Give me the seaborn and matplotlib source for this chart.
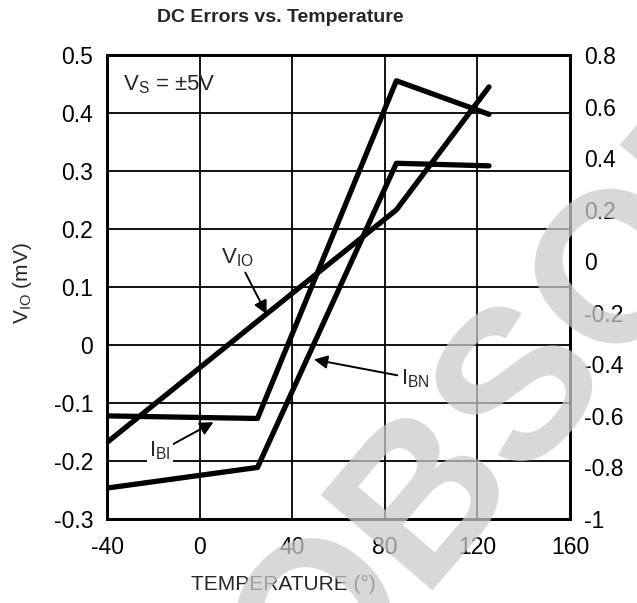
import numpy as np
import matplotlib
matplotlib.use("Agg")
import matplotlib.pyplot as plt
import seaborn as sns

# Measured data (temperature in °C)
temperature = [-40, 25, 85, 125]
v_io = [-0.168, 0.041, 0.233, 0.445]      # left axis, mV
i_bi = [-0.60, -0.61, 0.70, 0.57]         # right axis
i_bn = [-0.88, -0.80, 0.38, 0.37]         # right axis

x_ticks = [-40, 0, 40, 80, 120, 160]
left_ticks = [-0.3, -0.2, -0.1, 0.0, 0.1, 0.2, 0.3, 0.4, 0.5]
left_labels = ["-0.3", "-0.2", "-0.1", "0", "0.1", "0.2", "0.3", "0.4", "0.5"]
right_ticks = [-1.0, -0.8, -0.6, -0.4, -0.2, 0.0, 0.2, 0.4, 0.6, 0.8]
right_labels = ["-1", "-0.8", "-0.6", "-0.4", "-0.2", "0", "0.2", "0.4", "0.6", "0.8"]

sns.set_theme(style="white")
plt.rcParams["font.family"] = ["Liberation Sans", "DejaVu Sans"]
plt.rcParams["mathtext.fontset"] = "custom"
plt.rcParams["mathtext.rm"] = "Liberation Sans"

W, H = 637, 603
fig = plt.figure(figsize=(W / 100, H / 100), dpi=100)
fig.patch.set_facecolor("white")

x0, x1, y0, y1 = 107, 570, 55, 519
ax = fig.add_axes([x0 / W, 1 - y1 / H, (x1 - x0) / W, (y1 - y0) / H])
ax2 = ax.twinx()

TICK_FS = 16.5

# Left axis: grid and V_IO
ax.set_xlim(-40, 160)
ax.set_ylim(-0.3, 0.5)
ax.set_xticks(x_ticks)
ax.set_xticklabels([str(t) for t in x_ticks])
ax.set_yticks(left_ticks)
ax.set_yticklabels(left_labels)
ax.grid(True, color="black", lw=1.3)
ax.set_axisbelow(True)
ax.tick_params(axis="both", length=0, labelsize=TICK_FS, colors="black")
ax.tick_params(axis="x", pad=12)
ax.tick_params(axis="y", pad=10)

# Right axis for bias currents
ax2.set_ylim(-1.0, 0.8)
ax2.set_yticks(right_ticks)
ax2.set_yticklabels(right_labels)
ax2.tick_params(axis="y", length=0, labelsize=TICK_FS, pad=10, colors="black")
ax2.grid(False)

for a in (ax, ax2):
    for s in a.spines.values():
        s.set_color("black")
        s.set_linewidth(2)

line_kw = dict(color="black", lw=3.8, sort=False)
sns.lineplot(x=temperature, y=v_io, ax=ax, **line_kw)
sns.lineplot(x=temperature, y=i_bi, ax=ax2, **line_kw)
sns.lineplot(x=temperature, y=i_bn, ax=ax2, **line_kw)
ax.set_xlabel("")
ax.set_ylabel("")
ax2.set_ylabel("")

ax2.patch.set_visible(False)
ax.set_zorder(0)
ax2.set_zorder(1)

arrow = dict(arrowstyle="-|>", color="black", lw=1.4, mutation_scale=20,
             shrinkA=0, shrinkB=0)
box = dict(boxstyle="square,pad=0.1", fc="white", ec="none")
LBL_FS = 16

ax2.annotate("V$_\\mathregular{IO}$", xy=(29.0, 0.053), xycoords=ax.transData,
             xytext=(16.5, 0.15), textcoords=ax.transData,
             ha="center", va="center", fontsize=LBL_FS, arrowprops=arrow)
ax2.annotate("I$_\\mathregular{BI}$", xy=(6.0, -0.133), xycoords=ax.transData,
             xytext=(-17, -0.183), textcoords=ax.transData,
             ha="center", va="center", fontsize=LBL_FS, bbox=box, arrowprops=arrow)
ax2.annotate("I$_\\mathregular{BN}$", xy=(49.4, -0.025), xycoords=ax.transData,
             xytext=(93, -0.058), textcoords=ax.transData,
             ha="center", va="center", fontsize=LBL_FS, arrowprops=arrow)

ax.text((123 - x0) / (x1 - x0), (y1 - 85) / (y1 - y0), "V$_\\mathregular{S}$ = ±5V",
        transform=ax.transAxes, ha="left", va="center", fontsize=LBL_FS, zorder=6)

# Titles and axis labels
fig.text(280 / W, 1 - 18 / H, "DC Errors vs. Temperature", ha="center", va="center",
         fontsize=14, fontweight="bold")
fig.text(283 / W, 1 - 584 / H, "TEMPERATURE (°)", ha="center", va="center", fontsize=15)
fig.text(22 / W, 1 - 283 / H, "V$_\\mathregular{IO}$ (mV)", ha="center", va="center",
         fontsize=15, rotation=90)

# Diagonal status stamp; anchored halfway between the centres of its two "O"s
stamp_fs = 153
stamp_angle = 49.5
em = stamp_fs * fig.dpi / 72
u = np.array([np.cos(np.radians(stamp_angle)), np.sin(np.radians(stamp_angle))])
v = np.array([-u[1], u[0]])
mid = np.array([459.5, H - 432.5])
start = mid - 1.4725 * em * u - 0.358 * em * v
fig.text(start[0] / W, start[1] / H, "OBSOLETE", rotation=stamp_angle,
         rotation_mode="anchor", ha="left", va="baseline",
         fontsize=stamp_fs, fontweight="bold",
         color="#cbcbcb", alpha=0.74, zorder=20)

fig.savefig("out.png", dpi=100, facecolor="white")
